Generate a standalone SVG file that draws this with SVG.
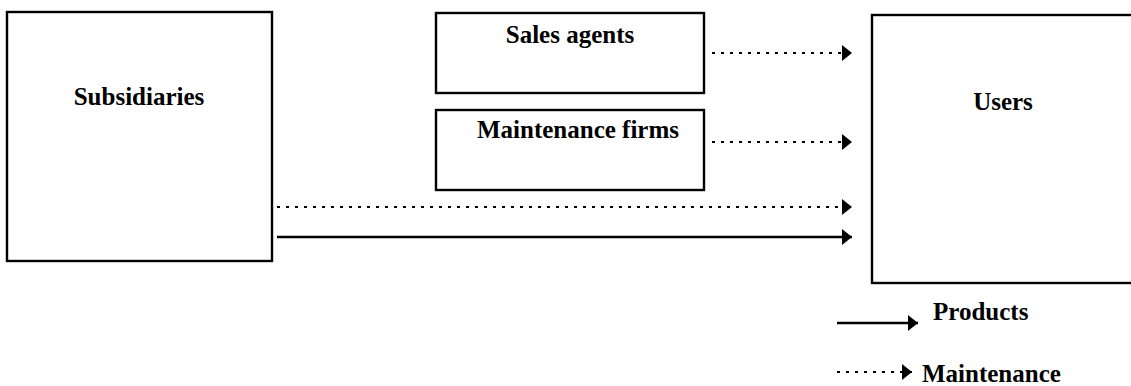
<svg xmlns="http://www.w3.org/2000/svg" width="1131" height="386" viewBox="0 0 1131 386">
<style>
.box{fill:#fff;stroke:#000;stroke-width:2.4}
.t{font-family:"Liberation Serif","Times New Roman",serif;font-weight:bold;font-size:25px;fill:#000}
.solid{stroke:#000;stroke-width:2.4;fill:none}
.dot{stroke:#000;stroke-width:2;fill:none;stroke-dasharray:3 6}
</style>
<defs>
<marker id="ah" markerUnits="userSpaceOnUse" markerWidth="11" markerHeight="16" refX="10" refY="8" orient="auto">
<path d="M0,0 L10,8 L0,16 Z" fill="#000"/>
</marker>
</defs>
<rect width="1131" height="386" fill="#fff"/>
<g id="subsidiaries"><rect class="box" x="7" y="12" width="265" height="249"/><text class="t" x="139" y="105" text-anchor="middle">Subsidiaries</text></g>
<g id="sales-agents"><rect class="box" x="436" y="13" width="268" height="80"/><text class="t" x="570" y="43" text-anchor="middle">Sales agents</text></g>
<g id="maintenance-firms"><rect class="box" x="436" y="110" width="268" height="80"/><text class="t" x="578" y="138" text-anchor="middle">Maintenance firms</text></g>
<g id="users"><rect class="box" x="872" y="15" width="270" height="268"/><text class="t" x="1003" y="110" text-anchor="middle">Users</text></g>
<g id="connectors">
<line class="dot" x1="712" y1="53" x2="852" y2="53" marker-end="url(#ah)"/>
<line class="dot" x1="712" y1="142" x2="852" y2="142" marker-end="url(#ah)"/>
<line class="dot" x1="277" y1="207" x2="852" y2="207" marker-end="url(#ah)"/>
<line class="solid" x1="277" y1="237" x2="852" y2="237" marker-end="url(#ah)"/>
</g>
<g id="legend">
<line class="solid" x1="837" y1="323" x2="918" y2="323" marker-end="url(#ah)"/>
<text class="t" x="933" y="320">Products</text>
<line class="dot" x1="837" y1="372" x2="912" y2="372" marker-end="url(#ah)"/>
<text class="t" x="922" y="382">Maintenance</text>
</g>
</svg>
